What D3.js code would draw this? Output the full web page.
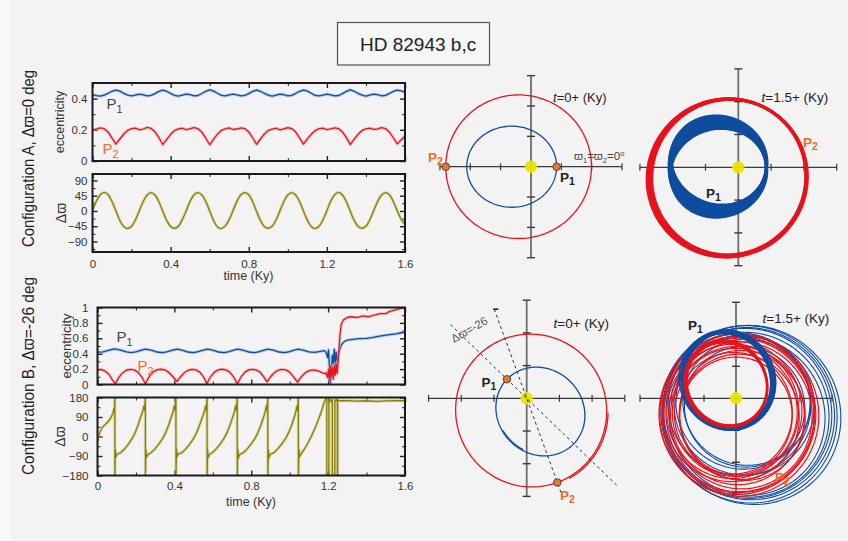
<!DOCTYPE html>
<html>
<head>
<meta charset="utf-8">
<script src="https://cdn.jsdelivr.net/npm/d3@7"></script>
<style>
  body { margin: 0; background: #ffffff; }
  svg { display: block; }
  text { font-family: "Liberation Sans", Arial, "DejaVu Sans", sans-serif; }
</style>
</head>
<body>
<svg id="fig" width="848" height="541"></svg>
<script>
// ---------------- data ----------------
const timeMajor = [0, 0.4, 0.8, 1.2, 1.6];
const timeMinor = [0.2, 0.6, 1.0, 1.4];
const eccTicksA = [0, 0.2, 0.4];
const eccMinorA = [0.1, 0.3];
const dvarpiTicksA = [-90, -45, 0, 45, 90];
const dvarpiMinorA = [-112.5, -67.5, -22.5, 22.5, 67.5];
const eccTicksB = [0, 0.2, 0.4, 0.6, 0.8, 1];
const eccMinorB = [0.1, 0.3, 0.5, 0.7, 0.9];
const dvarpiTicksB = [-180, -90, 0, 90, 180];
const dvarpiMinorB = [-135, -45, 45, 135];

// Configuration A, sampled every 0.02 Ky from t = 0
const sampleStepA = 0.02;
const eccA_P1 = [0.425,0.419,0.416,0.422,0.434,0.447,0.455,0.448,0.434,0.422,0.417,0.423,0.428,0.424,0.418,0.421,0.432,0.446,0.454,0.447,0.433,0.421,0.416,0.423,0.429,0.425,0.418,0.420,0.433,0.447,0.456,0.448,0.434,0.421,0.417,0.424,0.428,0.424,0.417,0.421,0.432,0.446,0.455,0.447,0.433,0.422,0.416,0.422,0.428,0.425,0.418,0.421,0.433,0.447,0.455,0.448,0.434,0.421,0.417,0.423,0.429,0.424,0.417,0.420,0.432,0.447,0.456,0.447,0.433,0.422,0.416,0.423,0.428,0.425,0.418,0.421,0.433,0.446,0.455,0.449,0.441];
const eccA_P2 = [0.198,0.205,0.212,0.207,0.185,0.147,0.108,0.141,0.173,0.196,0.207,0.211,0.200,0.205,0.215,0.209,0.187,0.150,0.106,0.139,0.171,0.195,0.206,0.210,0.201,0.207,0.214,0.207,0.185,0.146,0.104,0.140,0.172,0.197,0.206,0.212,0.202,0.205,0.213,0.208,0.186,0.149,0.107,0.141,0.173,0.196,0.205,0.210,0.200,0.206,0.214,0.208,0.187,0.148,0.108,0.142,0.171,0.195,0.207,0.211,0.201,0.206,0.213,0.207,0.186,0.150,0.105,0.140,0.172,0.196,0.206,0.211,0.202,0.206,0.214,0.208,0.186,0.149,0.110,0.135,0.160];
const dvarpiA = [2,29,48,55,48,28,0,-28,-46,-52,-45,-26,1,28,47,54,47,27,-1,-28,-46,-51,-45,-25,1,29,48,54,47,28,0,-28,-47,-52,-44,-25,2,29,48,54,48,27,-1,-28,-46,-51,-45,-26,1,28,47,54,47,28,0,-27,-46,-52,-45,-26,1,29,48,55,47,27,-1,-28,-46,-51,-45,-26,1,28,47,54,48,28,1,-24,-40];

// Configuration B, [time (Ky), value]
const eccB_P1 = [[0,0.42],[0.03,0.425],[0.06,0.445],[0.09,0.462],[0.12,0.447],[0.15,0.425],[0.175,0.415],[0.2,0.425],[0.225,0.443],[0.25,0.46],[0.28,0.445],[0.31,0.422],[0.34,0.415],[0.365,0.428],[0.39,0.445],[0.415,0.46],[0.44,0.445],[0.47,0.422],[0.5,0.415],[0.525,0.428],[0.55,0.445],[0.572,0.46],[0.6,0.445],[0.63,0.422],[0.66,0.415],[0.685,0.428],[0.708,0.445],[0.73,0.46],[0.758,0.445],[0.788,0.422],[0.818,0.415],[0.843,0.428],[0.866,0.445],[0.888,0.46],[0.915,0.445],[0.945,0.422],[0.975,0.415],[1.0,0.428],[1.022,0.445],[1.045,0.458],[1.07,0.445],[1.1,0.424],[1.13,0.418],[1.16,0.43],[1.18,0.44],[1.19,0.415],[1.197,0.35],[1.202,0.45],[1.207,0.22],[1.212,0.02],[1.217,0.15],[1.222,0.38],[1.227,0.28],[1.232,0.46],[1.237,0.26],[1.242,0.42],[1.247,0.3],[1.253,0.4],[1.26,0.45],[1.27,0.52],[1.285,0.56],[1.3,0.575],[1.33,0.585],[1.36,0.595],[1.4,0.6],[1.43,0.61],[1.46,0.625],[1.5,0.64],[1.53,0.65],[1.56,0.66],[1.58,0.672],[1.6,0.68]];
const eccB_P2 = [[0,0.19],[0.02,0.195],[0.04,0.175],[0.06,0.13],[0.075,0.07],[0.092,0.01],[0.11,0.09],[0.13,0.15],[0.15,0.185],[0.17,0.197],[0.19,0.19],[0.21,0.16],[0.23,0.1],[0.249,0.01],[0.268,0.1],[0.288,0.16],[0.31,0.19],[0.33,0.198],[0.35,0.19],[0.37,0.16],[0.393,0.1],[0.414,0.04],[0.432,0.1],[0.452,0.155],[0.472,0.185],[0.492,0.196],[0.512,0.19],[0.532,0.16],[0.552,0.1],[0.569,0.01],[0.588,0.1],[0.608,0.16],[0.628,0.19],[0.648,0.198],[0.668,0.19],[0.688,0.16],[0.708,0.1],[0.728,0.01],[0.747,0.1],[0.767,0.16],[0.787,0.19],[0.807,0.196],[0.827,0.188],[0.847,0.158],[0.865,0.1],[0.882,0.035],[0.9,0.1],[0.92,0.155],[0.94,0.186],[0.96,0.196],[0.98,0.19],[1.0,0.16],[1.02,0.1],[1.041,0.03],[1.06,0.1],[1.08,0.15],[1.1,0.18],[1.12,0.19],[1.14,0.182],[1.16,0.165],[1.18,0.14],[1.19,0.15],[1.197,0.09],[1.202,0.2],[1.207,0.05],[1.212,0.24],[1.217,0.1],[1.222,0.22],[1.227,0.07],[1.232,0.25],[1.237,0.12],[1.242,0.27],[1.247,0.14],[1.252,0.3],[1.257,0.48],[1.262,0.66],[1.268,0.78],[1.28,0.84],[1.3,0.87],[1.32,0.88],[1.35,0.87],[1.38,0.89],[1.41,0.88],[1.44,0.9],[1.47,0.92],[1.5,0.92],[1.52,0.95],[1.55,0.97],[1.58,0.99],[1.6,1.0]];
const dvarpiB = [[0,-24],[0.01,15],[0.024,42],[0.04,55],[0.055,68],[0.068,85],[0.08,105],[0.085,128],[0.088,112],[0.09,180],[0.0905,-180],
  [0.093,-60],[0.096,-95],[0.102,-82],[0.12,-75],[0.14,-58],[0.16,-36],[0.18,-10],[0.195,15],[0.21,50],[0.225,90],[0.235,115],[0.241,140],[0.245,120],[0.249,180],[0.2495,-180],
  [0.252,-62],[0.255,-96],[0.261,-84],[0.28,-74],[0.3,-56],[0.32,-34],[0.34,-8],[0.355,18],[0.37,52],[0.385,92],[0.394,116],[0.4,142],[0.404,122],[0.408,180],[0.4085,-180],
  [0.411,-58],[0.414,-94],[0.42,-80],[0.44,-74],[0.46,-57],[0.48,-35],[0.5,-9],[0.515,16],[0.53,50],[0.545,88],[0.556,114],[0.562,140],[0.566,118],[0.57,180],[0.5705,-180],
  [0.573,-63],[0.576,-97],[0.582,-83],[0.6,-73],[0.62,-55],[0.64,-33],[0.66,-6],[0.675,20],[0.69,54],[0.705,94],[0.713,116],[0.719,142],[0.723,120],[0.727,180],[0.7275,-180],
  [0.73,-60],[0.733,-100],[0.739,-84],[0.76,-74],[0.78,-56],[0.8,-34],[0.82,-8],[0.835,18],[0.85,52],[0.865,92],[0.873,115],[0.879,141],[0.882,118],[0.886,180],[0.8865,-180],
  [0.889,-62],[0.892,-98],[0.898,-83],[0.92,-73],[0.94,-55],[0.96,-33],[0.98,-7],[0.995,19],[1.01,52],[1.025,92],[1.032,116],[1.038,140],[1.041,118],[1.045,180],[1.0455,-180],
  [1.048,-60],[1.051,-95],[1.057,-82],[1.075,-60],[1.095,-30],[1.115,5],[1.135,45],[1.15,80],[1.165,115],[1.18,160],[1.19,176],
  [1.193,180],[1.1932,-180],[1.198,-170],[1.204,-178],[1.2042,178],[1.21,168],[1.216,160],[1.222,172],[1.2222,-180],[1.235,-178],[1.2352,170],[1.242,165],[1.248,174],[1.2482,-180],[1.2495,-175],[1.2497,168],
  [1.26,165],[1.3,166],[1.35,163],[1.4,165],[1.45,162],[1.5,164],[1.55,166],[1.6,165]];

// Orbital elements [a (AU), e, longitude of periastron (deg), true anomaly from, to]
const orbitA0_P1 = [[0.74, 0.43, 0, 0, 360]];
const orbitA0_P2 = [[1.20, 0.17, 0, 0, 360]];
const orbitA15_P1 = [[0.74,0.42,-20,0,360],[0.74,0.43,-15.5,0,360],[0.74,0.43,-11,0,360],[0.74,0.42,-6.5,0,360],[0.74,0.43,-2,0,360],[0.74,0.42,2.5,0,360],[0.74,0.43,7,0,360],[0.74,0.42,11.5,0,360],[0.74,0.42,16,0,360]];
const orbitA15_P2 = [[1.20,0.18,42,0,360],[1.21,0.19,46,0,360],[1.22,0.19,44,0,360],[1.19,0.17,48,0,360],[1.20,0.18,45,0,360],[1.22,0.20,41,0,360],[1.21,0.18,49,0,360]];
const orbitB0_P1 = [[0.71, 0.41, 136, 0, 360], [0.713, 0.415, 139, 95, 128]];
const orbitB0_P2 = [[1.17, 0.17, 110, 0, 360], [1.178, 0.178, 113, 185, 238]];
// configuration B at 1.5 Ky: wide loops and the tight inner bundles
const orbitB15_P1_wide = [[1.05,0.12,150,0,360],[1.10,0.15,140,0,360],[1.00,0.18,160,0,360],[1.12,0.10,120,0,360],[0.95,0.20,135,0,360],
  [1.30,0.24,125,0,360],[1.36,0.23,130,0,360],[1.40,0.23,129,0,360],[1.42,0.25,133,0,360],[1.25,0.26,122,0,360],[1.34,0.22,127,0,360]];
const orbitB15_P2_wide = [[0.95,0.25,80,0,360],[1.00,0.22,85,0,360],[1.05,0.20,76,0,360],[1.10,0.19,76,0,360],[1.08,0.25,95,0,360],[0.98,0.30,100,0,360],[1.02,0.28,110,0,360],[0.92,0.30,90,0,360],
  [1.20,0.22,100,0,360],[1.27,0.21,101,0,360],[1.25,0.20,95,0,360],[1.15,0.24,105,0,360],[1.22,0.21,98,0,360]];
const orbitB15_P1_inner = [[0.76,0.40,-62,0,360],[0.75,0.42,-66,0,360],[0.77,0.41,-70,0,360],[0.74,0.43,-64,0,360],[0.76,0.39,-72,0,360],[0.75,0.41,-68,0,360],[0.78,0.40,-60,0,360],[0.77,0.42,-65,0,360],[0.79,0.39,-67,0,360]];
const orbitB15_P2_inner = [[0.68,0.40,-56,0,360],[0.67,0.41,-58,0,360],[0.69,0.39,-54,0,360],[0.68,0.42,-60,0,360],[0.66,0.40,-57,0,360]];
// true anomaly of P1 and P2 at t = 0
const phaseA0 = [0, 180];
const phaseB0 = [0, 180];
// dashed apsidal lines in configuration B (extent in AU on each side of the star)
const apsidalExtentB0 = [[1.62, 1.92], [1.45, 1.57]];
const axisTicksAU = [-1.5, -1, -0.5, 0.5, 1, 1.5];

// ---------------- styles ----------------
const BLUE = "#0f4c9f", BLUE_HALO = "#8eaede";
const RED = "#e8121c", RED_HALO = "#f5a0a5";
const OLIVE = "#878000", OLIVE_HALO = "#cbc585";
const ORANGE = "#f06a2a";

const svg = d3.select("#fig");
svg.append("rect").attr("width", 848).attr("height", 541).attr("fill", "#f3f3f3");
svg.append("rect").attr("width", 10).attr("height", 541).attr("fill", "#fafafa");

// ---------------- title ----------------
svg.append("rect").attr("x", 337.5).attr("y", 22.5).attr("width", 152).attr("height", 42.5)
  .attr("fill", "#f6f6f6").attr("stroke", "#555").attr("stroke-width", 1.2);
svg.append("text").attr("x", 360).attr("y", 51).attr("font-size", 19).attr("fill", "#222").text("HD 82943 b,c");

// ---------------- side labels ----------------
function sideLabel(cx, cy, len, txt) {
  svg.append("text").attr("transform", `translate(${cx},${cy}) rotate(-90)`)
    .attr("text-anchor", "middle").attr("dy", "0.35em").attr("font-size", 16).attr("fill", "#222")
    .attr("textLength", len).attr("lengthAdjust", "spacingAndGlyphs").text(txt);
}
sideLabel(28, 158.5, 177, "Configuration A,  Δϖ=0 deg");
sideLabel(28, 376, 198, "Configuration B,  Δϖ=-26 deg");

// ---------------- time panels ----------------
let clipId = 0;
function timePanel(o) {
  const x = d3.scaleLinear().domain([0, 1.6]).range([o.left, o.right]);
  const y = d3.scaleLinear().domain(o.yDomain).range([o.bottom, o.top]);
  const g = svg.append("g");
  const id = "clip" + (clipId++);
  svg.append("clipPath").attr("id", id).append("rect")
    .attr("x", o.left).attr("y", o.top).attr("width", o.right - o.left).attr("height", o.bottom - o.top);

  const styleAxis = sel => {
    sel.select(".domain").remove();
    sel.selectAll(".tick line").attr("stroke", "#222").attr("stroke-width", 1.4);
    sel.selectAll(".tick text").attr("font-size", 11.5).attr("fill", "#333")
      .attr("font-family", "'Liberation Sans', Arial, sans-serif");
  };
  const styleMinor = sel => {
    sel.select(".domain").remove();
    sel.selectAll(".tick line").attr("stroke", "#222").attr("stroke-width", 1);
  };
  g.append("g").attr("transform", `translate(${o.left},0)`)
    .call(d3.axisLeft(y).tickValues(o.yMajor).tickSize(-5).tickPadding(o.yPad).tickFormat(o.yFmt)).call(styleAxis);
  g.append("g").attr("transform", `translate(${o.left},0)`)
    .call(d3.axisLeft(y).tickValues(o.yMinor).tickSize(-3).tickFormat("")).call(styleMinor);
  g.append("g").attr("transform", `translate(${o.right},0)`)
    .call(d3.axisRight(y).tickValues(o.yMajor).tickSize(-5).tickFormat("")).call(styleAxis);
  g.append("g").attr("transform", `translate(${o.right},0)`)
    .call(d3.axisRight(y).tickValues(o.yMinor).tickSize(-3).tickFormat("")).call(styleMinor);
  g.append("g").attr("transform", `translate(0,${o.bottom})`)
    .call(d3.axisBottom(x).tickValues(timeMajor).tickSize(-5).tickPadding(o.xPad)
      .tickFormat(o.xLabels ? d3.format("") : "")).call(styleAxis);
  g.append("g").attr("transform", `translate(0,${o.bottom})`)
    .call(d3.axisBottom(x).tickValues(timeMinor).tickSize(-3).tickFormat("")).call(styleMinor);
  g.append("g").attr("transform", `translate(0,${o.top})`)
    .call(d3.axisTop(x).tickValues(timeMajor).tickSize(-5).tickFormat("")).call(styleAxis);
  g.append("g").attr("transform", `translate(0,${o.top})`)
    .call(d3.axisTop(x).tickValues(timeMinor).tickSize(-3).tickFormat("")).call(styleMinor);

  const lines = g.append("g").attr("clip-path", `url(#${id})`);
  o.series.forEach(s => {
    const line = d3.line().x(d => x(d[0])).y(d => y(d[1])).curve(s.curve || d3.curveLinear);
    lines.append("path").attr("d", line(s.data)).attr("fill", "none")
      .attr("stroke", s.halo).attr("stroke-width", 3.2).attr("stroke-opacity", 0.55).attr("stroke-linejoin", "round");
    lines.append("path").attr("d", line(s.data)).attr("fill", "none")
      .attr("stroke", s.color).attr("stroke-width", 1.3).attr("stroke-linejoin", "round");
  });

  g.append("rect").attr("x", o.left).attr("y", o.top).attr("width", o.right - o.left).attr("height", o.bottom - o.top)
    .attr("fill", "none").attr("stroke", "#1a1a1a").attr("stroke-width", 2);

  const t = g.append("text").attr("transform", `translate(${o.titleX},${(o.top + o.bottom) / 2}) rotate(-90)`)
    .attr("text-anchor", "middle").attr("dy", "0.35em").attr("fill", "#333");
  if (o.title === "ecc") {
    t.attr("font-size", o.titleSize).text("eccentricity");
  } else {
    t.attr("font-size", 14).attr("font-family", "'Liberation Serif', 'DejaVu Serif', serif").text("Δϖ");
  }
  return { x, y, g };
}

const gridA = arr => arr.map((v, i) => [i * sampleStepA, v]);

timePanel({ left: 92.5, right: 405, top: 83, bottom: 161, yDomain: [0, 0.5],
  yMajor: eccTicksA, yMinor: eccMinorA, yFmt: d3.format(""), yPad: 5, xPad: 8, xLabels: false,
  title: "ecc", titleX: 60, titleSize: 12.5,
  series: [{ data: gridA(eccA_P1), color: BLUE, halo: BLUE_HALO }, { data: gridA(eccA_P2), color: RED, halo: RED_HALO }] });
timePanel({ left: 92.5, right: 405, top: 174, bottom: 252, yDomain: [-121, 109],
  yMajor: dvarpiTicksA, yMinor: dvarpiMinorA, yFmt: d3.format(""), yPad: 5, xPad: 8, xLabels: true,
  title: "dw", titleX: 61,
  series: [{ data: gridA(dvarpiA), color: OLIVE, halo: OLIVE_HALO, curve: d3.curveCatmullRom.alpha(0.5) }] });
timePanel({ left: 97.5, right: 405, top: 307.5, bottom: 384.5, yDomain: [0, 1],
  yMajor: eccTicksB, yMinor: eccMinorB, yFmt: d3.format(""), yPad: 9, xPad: 8, xLabels: false,
  title: "ecc", titleX: 66.5, titleSize: 13,
  series: [{ data: eccB_P1, color: BLUE, halo: BLUE_HALO }, { data: eccB_P2, color: RED, halo: RED_HALO }] });
timePanel({ left: 97.5, right: 405, top: 397.5, bottom: 475.5, yDomain: [-180, 180],
  yMajor: dvarpiTicksB, yMinor: dvarpiMinorB, yFmt: d3.format(""), yPad: 9, xPad: 6.5, xLabels: true,
  title: "dw", titleX: 60,
  series: [{ data: dvarpiB, color: OLIVE, halo: OLIVE_HALO }] });

svg.append("text").attr("x", 248.5).attr("y", 280).attr("text-anchor", "middle").attr("font-size", 12.5).attr("fill", "#333").text("time (Ky)");
svg.append("text").attr("x", 251).attr("y", 506).attr("text-anchor", "middle").attr("font-size", 12.5).attr("fill", "#333").text("time (Ky)");

function pLabel(x, y, num, color, size) {
  const t = svg.append("text").attr("x", x).attr("y", y).attr("fill", color).attr("font-size", size);
  t.append("tspan").text("P");
  t.append("tspan").attr("dy", size * 0.28).attr("font-size", size * 0.72).text(num);
  return t;
}
pLabel(106.5, 108.5, "1", "#444", 15);
pLabel(102.5, 154, "2", ORANGE, 15);
pLabel(116.5, 342, "1", "#444", 15);
pLabel(137.5, 370.5, "2", ORANGE, 15);

// ---------------- orbit panels ----------------
function orbitPath(el, xs, ys) {
  const [a, e, w, f0, f1] = el;
  const pts = d3.range(f0, f1 + 0.001, 2).map(f => {
    const fr = f * Math.PI / 180;
    const r = a * (1 - e * e) / (1 + e * Math.cos(fr));
    const th = w * Math.PI / 180 + fr;
    return [r * Math.cos(th), r * Math.sin(th)];
  });
  return d3.line().x(d => xs(d[0])).y(d => ys(d[1]))(pts);
}
function orbitPosition(el, f, xs, ys) {
  const [a, e, w] = el;
  const fr = f * Math.PI / 180;
  const r = a * (1 - e * e) / (1 + e * Math.cos(fr));
  const th = w * Math.PI / 180 + fr;
  return [xs(r * Math.cos(th)), ys(r * Math.sin(th))];
}

// layers: [orbit list, colour, stroke width], drawn in order
function orbitPanel(o) {
  const xs = d3.scaleLinear().domain([-1.5, 1.5]).range([o.cx - 1.5 * o.s, o.cx + 1.5 * o.s]);
  const ys = d3.scaleLinear().domain([-1.5, 1.5]).range([o.cy + 1.5 * o.s, o.cy - 1.5 * o.s]);
  const g = svg.append("g");
  g.append("line").attr("x1", xs(0)).attr("x2", xs(0)).attr("y1", ys(-1.5)).attr("y2", ys(1.5))
    .attr("stroke", "#6e6e6e").attr("stroke-width", 1.8);
  g.append("line").attr("x1", xs(-1.5)).attr("x2", xs(1.5)).attr("y1", ys(0)).attr("y2", ys(0))
    .attr("stroke", "#3a3a3a").attr("stroke-width", 1.2);
  g.selectAll(null).data(axisTicksAU).join("line")
    .attr("x1", d => xs(d)).attr("x2", d => xs(d)).attr("y1", ys(0) - 3.5).attr("y2", ys(0) + 3.5)
    .attr("stroke", "#3a3a3a").attr("stroke-width", 1.2);
  g.selectAll(null).data(axisTicksAU).join("line")
    .attr("y1", d => ys(d)).attr("y2", d => ys(d)).attr("x1", xs(0) - 4).attr("x2", xs(0) + 4)
    .attr("stroke", "#3a3a3a").attr("stroke-width", 1.4);
  g.append("circle").attr("cx", xs(0)).attr("cy", ys(0)).attr("r", 6.2).attr("fill", "#ebe300").attr("opacity", 0.92);
  o.layers.forEach(([set, color, width]) => set.forEach(el => {
    g.append("path").attr("d", orbitPath(el, xs, ys)).attr("fill", "none")
      .attr("stroke", color).attr("stroke-width", width);
  }));
  return { xs, ys, g };
}

function orbitLabel(x, y, num, color) {
  const t = svg.append("text").attr("x", x).attr("y", y).attr("fill", color).attr("font-size", 13.5).attr("font-weight", "bold");
  t.append("tspan").text("P");
  t.append("tspan").attr("dy", 3).attr("font-size", 10.5).text(num);
}
function timeLabel(x, y, txt, size) {
  const t = svg.append("text").attr("x", x).attr("y", y).attr("font-size", size).attr("fill", "#222");
  t.append("tspan").attr("font-style", "italic").text("t");
  t.append("tspan").text(txt);
}
function planetMarker(panel, el, f) {
  const [px, py] = orbitPosition(el, f, panel.xs, panel.ys);
  panel.g.append("circle").attr("cx", px).attr("cy", py).attr("r", 3.8)
    .attr("fill", "#e6782e").attr("stroke", "#333").attr("stroke-width", 0.8);
}

// configuration A, t = 0
const oA0 = orbitPanel({ cx: 531, cy: 166.7, s: 60.7, layers: [[orbitA0_P1, BLUE, 1.3], [orbitA0_P2, RED, 1.3]] });
planetMarker(oA0, orbitA0_P1[0], phaseA0[0]);
planetMarker(oA0, orbitA0_P2[0], phaseA0[1]);
timeLabel(553, 101.5, "=0+  (Ky)", 13);
orbitLabel(428, 161.5, "2", ORANGE);
orbitLabel(560, 182, "1", "#222");
{
  const t = svg.append("text").attr("x", 574).attr("y", 160).attr("font-size", 11.5).attr("fill", "#444")
    .attr("font-family", "'Liberation Serif', 'DejaVu Serif', serif");
  t.append("tspan").text("ϖ");
  t.append("tspan").attr("dy", 2.5).attr("font-size", 7.5).text("1");
  t.append("tspan").attr("dy", -2.5).text("=ϖ");
  t.append("tspan").attr("dy", 2.5).attr("font-size", 7.5).text("2");
  t.append("tspan").attr("dy", -2.5).text("=0");
  t.append("tspan").attr("dy", -4).attr("font-size", 7.5).text("o");
}

// configuration A, t = 1.5
orbitPanel({ cx: 738.3, cy: 167.3, s: 65.6, layers: [[orbitA15_P1, BLUE, 2.7], [orbitA15_P2, RED, 2.6]] });
timeLabel(761.5, 101.5, "=1.5+  (Ky)", 13.5);
orbitLabel(706, 198, "1", "#222");
orbitLabel(803, 147, "2", ORANGE);

// configuration B, t = 0
const oB0 = orbitPanel({ cx: 526.7, cy: 398.3, s: 65.4, layers: [[orbitB0_P1, BLUE, 1.3], [orbitB0_P2, RED, 1.3]] });
[[orbitB0_P1[0], apsidalExtentB0[0]], [orbitB0_P2[0], apsidalExtentB0[1]]].forEach(([el, ext]) => {
  const w = el[2] * Math.PI / 180;
  oB0.g.append("line")
    .attr("x1", oB0.xs(ext[0] * Math.cos(w))).attr("y1", oB0.ys(ext[0] * Math.sin(w)))
    .attr("x2", oB0.xs(-ext[1] * Math.cos(w))).attr("y2", oB0.ys(-ext[1] * Math.sin(w)))
    .attr("stroke", "#333").attr("stroke-width", 1).attr("stroke-dasharray", "3,3");
});
planetMarker(oB0, orbitB0_P1[0], phaseB0[0]);
planetMarker(oB0, orbitB0_P2[0], phaseB0[1]);
{
  const w2 = orbitB0_P2[0][2] * Math.PI / 180;
  const ex = oB0.xs(apsidalExtentB0[1][0] * Math.cos(w2)), ey = oB0.ys(apsidalExtentB0[1][0] * Math.sin(w2));
  svg.append("line").attr("x1", ex - 1).attr("x2", ex + 4).attr("y1", ey).attr("y2", ey).attr("stroke", "#222").attr("stroke-width", 1.6);
  svg.append("text").attr("transform", "translate(454,343) rotate(-30)").attr("font-size", 11.5).attr("fill", "#555")
    .attr("font-family", "'Liberation Serif', 'DejaVu Serif', serif").text("Δϖ=-26");
}
timeLabel(553.5, 328, "=0+  (Ky)", 13.5);
orbitLabel(481.5, 387, "1", "#222");
orbitLabel(560, 500, "2", ORANGE);

// configuration B, t = 1.5
orbitPanel({ cx: 736, cy: 398.3, s: 64, layers: [
  [orbitB15_P1_wide, BLUE, 1.1], [orbitB15_P2_wide, RED, 1.2],
  [orbitB15_P1_inner, BLUE, 1.8], [orbitB15_P2_inner, RED, 1.6]] });
timeLabel(762.5, 323, "=1.5+ (Ky)", 13.5);
orbitLabel(688, 330, "1", "#222");
orbitLabel(775, 482, "2", ORANGE);
</script>
</body>
</html>
